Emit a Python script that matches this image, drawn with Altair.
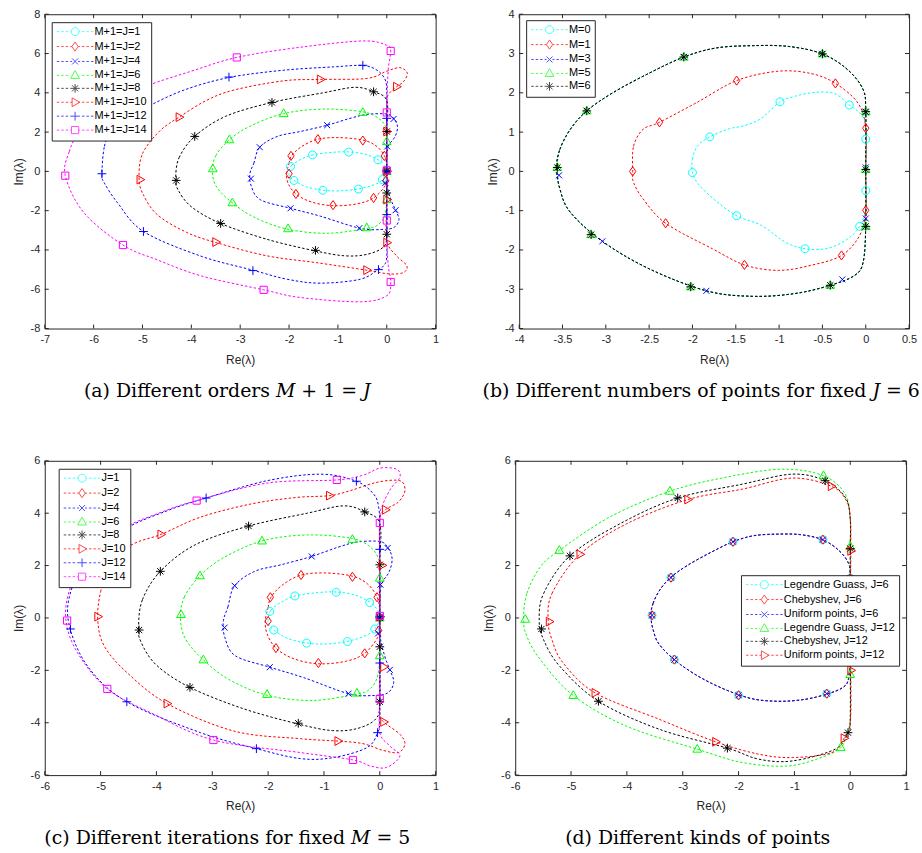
import altair as alt
import pandas as pd

# ---------------- shared curves, panels (a) and (c): J = 1 .. 8 ----------------
J1_CURVE = [(-2.0,-0.05),(-1.95,0.3),(-1.75,0.62),(-1.5,0.85),(-1.1,0.97),(-0.78,0.99),(-0.45,0.88),(-0.18,0.6),(-0.04,0.3),(0.0,0.02),(-0.05,-0.3),(-0.2,-0.62),(-0.55,-0.88),(-0.95,-0.99),(-1.3,-0.96),(-1.65,-0.78),(-1.9,-0.46),(-1.99,-0.25)]
J1_MARKS = [(-1.97,0.25),(-1.52,0.84),(-0.78,0.98),(-0.18,0.59),(0.0,0.05),(-0.09,-0.42),(-0.58,-0.9),(-1.31,-0.96),(-1.9,-0.46)]
J2_CURVE = [(-2.05,-0.1),(-2.0,0.4),(-1.95,0.79),(-1.75,1.25),(-1.42,1.63),(-1.0,1.72),(-0.5,1.6),(-0.22,1.3),(-0.05,0.8),(0.0,0.3),(0.0,-0.3),(-0.04,-0.75),(-0.27,-1.35),(-0.6,-1.65),(-1.1,-1.75),(-1.55,-1.55),(-1.86,-1.15),(-2.02,-0.6)]
J2_MARKS = [(-1.96,0.79),(-1.41,1.64),(-0.49,1.57),(-0.05,0.79),(0.0,0.0),(-0.02,-0.48),(-0.27,-1.35),(-1.1,-1.72),(-1.86,-1.15),(-2.0,-0.12)]
J4_CURVE = [(-2.8,-0.1),(-2.72,0.42),(-2.6,1.23),(-2.24,1.78),(-1.77,2.03),(-1.22,2.35),(-0.75,2.7),(-0.4,2.9),(0.0,2.92),(0.14,2.7),(0.22,2.28),(0.17,1.77),(0.03,1.27),(0.0,0.5),(0.0,-0.59),(0.08,-1.4),(0.18,-1.98),(0.25,-2.45),(0.15,-2.85),(-0.1,-2.96),(-0.56,-2.89),(-1.36,-2.28),(-1.97,-1.88),(-2.59,-1.44),(-2.78,-0.7)]
J4_MARKS = [(-2.6,1.23),(-1.22,2.35),(0.14,2.67),(0.01,1.27),(0.0,0.05),(-0.03,-0.59),(0.18,-1.98),(-0.56,-2.89),(-1.97,-1.88),(-2.78,-0.37)]
J6_CURVE = [(-3.57,0.0),(-3.5,0.8),(-3.22,1.61),(-2.8,2.3),(-2.11,2.94),(-1.3,3.17),(-0.49,3.03),(-0.14,2.65),(0.0,2.1),(0.0,1.52),(0.0,0.0),(0.0,-1.44),(-0.05,-2.3),(-0.2,-2.75),(-0.41,-2.9),(-1.2,-3.15),(-2.02,-2.95),(-2.7,-2.35),(-3.16,-1.6),(-3.48,-0.8)]
J6_MARKS = [(-3.56,0.13),(-3.22,1.61),(-2.11,2.94),(-0.49,3.0),(0.0,1.52),(0.0,0.0),(0.0,-1.44),(-0.41,-2.87),(-2.02,-2.92),(-3.16,-1.6)]
J8_CURVE = [(-4.32,-0.3),(-4.25,0.7),(-3.93,1.78),(-3.3,2.8),(-2.35,3.51),(-1.3,4.0),(-0.65,4.28),(-0.27,4.05),(0.0,3.6),(0.0,2.03),(0.0,0.0),(0.0,-1.1),(0.0,-3.2),(-0.07,-3.85),(-0.4,-4.22),(-0.85,-4.3),(-1.46,-4.05),(-2.45,-3.46),(-3.4,-2.65),(-4.0,-1.8),(-4.28,-0.9)]
J8_MARKS = [(-3.93,1.78),(-2.35,3.51),(-0.27,4.05),(0.0,2.03),(0.0,0.0),(0.0,-1.1),(0.0,-3.2),(-1.46,-4.02),(-3.4,-2.65),(-4.31,-0.46)]

# ---------------- panel (a) only: J = 10, 12, 14 ----------------
A_J10_CURVE = [(-5.07,-0.3),(-5.0,0.9),(-4.65,2.05),(-4.25,2.76),(-3.7,3.6),(-3.13,4.14),(-2.11,4.61),(-1.36,4.68),(-0.41,4.73),(0.0,5.1),(0.27,5.28),(0.42,5.0),(0.34,4.56),(0.2,4.31),(0.03,3.9),(0.0,3.4),(0.0,2.03),(0.0,0.0),(0.0,-1.44),(0.0,-3.5),(0.2,-4.3),(0.41,-4.8),(0.34,-5.15),(0.05,-5.22),(-0.41,-5.03),(-1.43,-4.65),(-2.45,-4.3),(-3.5,-3.62),(-4.1,-3.1),(-4.7,-2.2),(-5.0,-1.1)]
A_J10_MARKS = [(-4.25,2.76),(-1.36,4.68),(0.2,4.31),(0.0,2.03),(0.0,0.0),(0.0,-1.44),(0.0,-3.63),(-0.41,-5.03),(-3.5,-3.6),(-5.05,-0.42)]
A_J12_CURVE = [(-5.83,-0.12),(-5.78,1.27),(-5.65,1.94),(-5.31,2.7),(-4.9,3.29),(-4.15,4.14),(-3.23,4.78),(-2.11,5.15),(-1.09,5.32),(-0.49,5.39),(-0.2,5.15),(-0.03,4.65),(0.0,3.97),(0.0,2.7),(0.0,0.0),(0.0,-2.2),(0.0,-4.31),(-0.07,-4.81),(-0.17,-4.98),(-0.54,-5.49),(-1.36,-5.69),(-2.04,-5.49),(-2.74,-5.03),(-3.81,-4.31),(-4.98,-3.06),(-5.51,-1.6),(-5.78,-0.59)]
A_J12_MARKS = [(-5.45,2.45),(-3.23,4.8),(-0.49,5.4),(0.0,2.7),(0.0,0.05),(0.0,-2.2),(-0.17,-5.0),(-2.74,-5.05),(-4.98,-3.06),(-5.83,-0.12)]
A_J14_CURVE = [(-6.58,-0.22),(-6.5,1.0),(-6.3,2.0),(-5.9,3.0),(-5.3,3.85),(-4.86,4.4),(-4.0,5.1),(-3.07,5.8),(-1.77,6.32),(-0.48,6.64),(0.0,6.42),(0.08,6.13),(0.03,5.17),(0.0,3.47),(0.0,3.0),(0.0,0.0),(0.0,-2.5),(0.0,-3.5),(0.03,-4.8),(0.08,-5.63),(0.0,-6.33),(-0.54,-6.64),(-1.77,-6.42),(-2.52,-6.03),(-3.8,-5.32),(-4.7,-4.5),(-5.4,-3.75),(-6.2,-2.1)]
A_J14_MARKS = [(-5.6,3.4),(-3.07,5.8),(0.08,6.13),(0.0,3.0),(0.0,0.05),(0.0,-2.5),(0.08,-5.63),(-2.52,-6.03),(-5.4,-3.75),(-6.58,-0.22)]

# ---------------- panel (c) only: J = 10, 12, 14 ----------------
C_J10_CURVE = [(-5.05,-0.1),(-5.0,1.0),(-4.81,2.2),(-4.4,2.84),(-3.92,3.19),(-3.21,3.85),(-2.31,4.35),(-1.5,4.6),(-0.9,4.67),(-0.53,4.86),(-0.05,5.18),(0.36,5.24),(0.45,4.86),(0.33,4.42),(0.1,4.13),(0.0,3.72),(0.0,2.0),(0.0,0.0),(0.0,-1.87),(0.0,-3.62),(0.07,-3.97),(0.36,-4.44),(0.45,-4.82),(0.33,-5.14),(0.05,-5.05),(-0.3,-4.8),(-0.75,-4.7),(-1.42,-4.61),(-2.61,-4.32),(-3.81,-3.27),(-4.52,-2.1),(-4.93,-1.09)]
C_J10_MARKS = [(-3.92,3.19),(-0.9,4.67),(0.1,4.13),(0.04,2.01),(0.0,0.05),(0.07,-1.87),(0.07,-3.97),(-0.75,-4.7),(-3.81,-3.27),(-5.05,0.05)]
C_J12_CURVE = [(-5.57,-0.2),(-5.52,1.1),(-5.2,2.2),(-4.6,3.35),(-3.8,4.1),(-3.11,4.58),(-2.02,5.24),(-1.06,5.49),(-0.42,5.22),(-0.11,4.73),(-0.02,4.23),(0.0,3.5),(0.0,2.62),(0.0,0.0),(0.0,-1.72),(0.0,-3.8),(-0.04,-4.38),(-0.23,-4.95),(-0.83,-5.33),(-1.42,-5.37),(-2.21,-4.99),(-3.21,-4.38),(-4.53,-3.2),(-5.23,-1.85)]
C_J12_MARKS = [(-5.35,2.5),(-3.11,4.58),(-0.42,5.22),(0.0,2.62),(0.0,0.05),(0.0,-1.72),(-0.04,-4.38),(-2.21,-4.99),(-4.53,-3.2),(-5.54,-0.42)]
C_J14_CURVE = [(-5.62,-0.1),(-5.55,1.1),(-5.25,2.2),(-4.65,3.35),(-3.9,4.05),(-3.28,4.48),(-2.02,5.15),(-0.77,5.27),(-0.3,5.45),(0.0,5.72),(0.3,5.68),(0.36,5.37),(0.2,4.95),(0.05,4.3),(0.0,3.63),(0.0,0.0),(0.0,-3.09),(0.0,-4.38),(0.18,-4.89),(0.36,-5.27),(0.12,-5.71),(-0.17,-5.65),(-0.48,-5.42),(-1.42,-5.14),(-2.98,-4.66),(-4.1,-3.62),(-4.88,-2.71),(-5.41,-1.34)]
C_J14_MARKS = [(-5.3,2.3),(-3.28,4.48),(-0.77,5.27),(0.0,3.63),(0.0,0.08),(0.0,-3.09),(-0.48,-5.42),(-2.98,-4.66),(-4.88,-2.71),(-5.6,-0.1)]

# ---------------- panel (b): fixed J = 6 ----------------
B_M0_CURVE = [(-2.0,-0.03),(-2.0,0.31),(-1.94,0.65),(-1.8,0.88),(-1.58,1.08),(-1.39,1.17),(-1.2,1.36),(-0.99,1.77),(-0.82,1.91),(-0.59,2.01),(-0.36,1.98),(-0.19,1.69),(-0.07,1.49),(0.0,1.2),(0.0,0.82),(0.0,0.0),(0.0,-0.49),(0.0,-0.96),(-0.07,-1.4),(-0.21,-1.72),(-0.44,-1.96),(-0.7,-1.97),(-0.93,-1.8),(-1.2,-1.38),(-1.49,-1.13),(-1.73,-0.75),(-1.93,-0.33)]
B_M0_MARKS = [(-2.0,-0.03),(-1.8,0.88),(-0.99,1.77),(-0.19,1.69),(0.0,0.82),(0.0,-0.49),(-0.07,-1.4),(-0.7,-1.97),(-1.49,-1.13)]
B_M1_CURVE = [(-2.69,0.0),(-2.68,0.64),(-2.57,1.07),(-2.38,1.25),(-1.96,1.74),(-1.49,2.31),(-1.01,2.55),(-0.63,2.49),(-0.35,2.24),(-0.09,1.74),(0.0,1.1),(0.0,0.0),(0.0,-0.99),(-0.07,-1.63),(-0.28,-2.14),(-0.63,-2.39),(-1.01,-2.52),(-1.4,-2.38),(-1.77,-1.97),(-2.31,-1.32),(-2.57,-0.7),(-2.68,-0.28)]
B_M1_MARKS = [(-2.69,0.0),(-2.38,1.25),(-1.49,2.31),(-0.35,2.24),(0.0,1.1),(0.0,-0.99),(-0.28,-2.14),(-1.4,-2.38),(-2.31,-1.32)]
B_M3_CURVE = [(-3.56,0.1),(-3.53,0.56),(-3.41,1.07),(-3.22,1.54),(-2.92,2.0),(-2.5,2.5),(-2.1,2.91),(-1.73,3.14),(-1.31,3.2),(-0.89,3.18),(-0.5,2.99),(-0.21,2.59),(-0.03,2.08),(0.0,1.52),(0.0,0.05),(0.0,-1.4),(-0.03,-2.31),(-0.13,-2.65),(-0.41,-2.9),(-0.82,-3.11),(-1.31,-3.18),(-1.84,-3.04),(-2.5,-2.48),(-3.04,-1.78),(-3.41,-1.04),(-3.53,-0.45)]
B_M3_MARKS = [(-3.54,-0.1),(-3.22,1.54),(-2.1,2.91),(-0.5,2.99),(0.0,1.5),(0.0,0.1),(0.0,-1.2),(-0.27,-2.75),(-1.84,-3.04),(-3.04,-1.78)]
B_M5_CURVE = [(-3.57,0.1),(-3.53,0.56),(-3.41,1.07),(-3.22,1.54),(-2.92,2.0),(-2.5,2.5),(-2.1,2.91),(-1.73,3.14),(-1.31,3.2),(-0.89,3.18),(-0.5,2.99),(-0.21,2.59),(-0.03,2.08),(0.0,1.52),(0.0,0.05),(0.0,-1.4),(-0.03,-2.31),(-0.13,-2.65),(-0.41,-2.9),(-0.82,-3.11),(-1.31,-3.18),(-1.84,-3.04),(-2.5,-2.48),(-3.04,-1.78),(-3.41,-1.04),(-3.53,-0.45)]
B_M5_MARKS = [(-3.56,0.1),(-3.22,1.54),(-2.1,2.91),(-0.5,2.99),(0.0,1.52),(0.0,0.05),(0.0,-1.4),(-0.41,-2.9),(-2.02,-2.94),(-3.17,-1.61)]
B_M6_CURVE = [(-3.57,0.1),(-3.53,0.56),(-3.41,1.07),(-3.22,1.54),(-2.92,2.0),(-2.5,2.5),(-2.1,2.91),(-1.73,3.14),(-1.31,3.2),(-0.89,3.18),(-0.5,2.99),(-0.21,2.59),(-0.03,2.08),(0.0,1.52),(0.0,0.05),(0.0,-1.4),(-0.03,-2.31),(-0.13,-2.65),(-0.41,-2.9),(-0.82,-3.11),(-1.31,-3.18),(-1.84,-3.04),(-2.5,-2.48),(-3.04,-1.78),(-3.41,-1.04),(-3.53,-0.45)]
B_M6_MARKS = [(-3.56,0.1),(-3.22,1.54),(-2.1,2.91),(-0.5,2.99),(0.0,1.52),(0.0,0.05),(0.0,-1.4),(-0.41,-2.9),(-2.02,-2.94),(-3.17,-1.61)]

# ---------------- panel (d): kinds of points ----------------
D_J6_CURVE = [(-3.57,0.1),(-3.53,0.56),(-3.41,1.07),(-3.22,1.54),(-2.92,2.0),(-2.5,2.5),(-2.1,2.91),(-1.73,3.14),(-1.31,3.2),(-0.89,3.18),(-0.5,2.99),(-0.21,2.59),(-0.03,2.08),(0.0,1.52),(0.0,0.05),(0.0,-1.4),(-0.03,-2.31),(-0.13,-2.65),(-0.41,-2.9),(-0.82,-3.11),(-1.31,-3.18),(-1.84,-3.04),(-2.5,-2.48),(-3.04,-1.78),(-3.41,-1.04),(-3.53,-0.45)]
D_J6_MARKS = [(-3.55,0.1),(-3.21,1.54),(-2.1,2.91),(-0.49,2.99),(0.0,1.52),(0.0,0.05),(0.0,-1.4),(-0.42,-2.89),(-2.0,-2.95),(-3.15,-1.59)]
D_LG12_CURVE = [(-5.85,-0.05),(-5.79,0.94),(-5.55,1.95),(-5.21,2.58),(-4.31,3.85),(-3.23,4.84),(-2.23,5.37),(-1.22,5.68),(-0.48,5.43),(-0.09,4.73),(0.0,3.72),(0.0,2.73),(0.0,0.0),(0.0,-2.16),(0.0,-3.87),(-0.09,-4.63),(-0.17,-4.95),(-0.45,-5.27),(-1.1,-5.65),(-1.93,-5.52),(-2.74,-5.01),(-4.01,-4.13),(-4.96,-2.96),(-5.55,-1.59),(-5.79,-0.71)]
D_LG12_MARKS = [(-5.82,-0.05),(-5.21,2.58),(-3.23,4.84),(-0.48,5.43),(0.0,2.73),(0.0,0.0),(0.0,-2.16),(-0.17,-4.95),(-2.74,-5.01),(-4.96,-2.96)]
D_CH12_CURVE = [(-5.57,-0.1),(-5.49,0.94),(-5.02,2.37),(-4.13,3.59),(-3.09,4.58),(-1.93,5.11),(-1.04,5.49),(-0.45,5.24),(-0.09,4.61),(0.0,3.8),(0.0,2.65),(0.0,0.0),(0.0,-3.8),(-0.04,-4.38),(-0.27,-5.01),(-1.04,-5.46),(-1.64,-5.39),(-2.2,-4.97),(-3.42,-4.25),(-4.51,-3.18),(-5.2,-1.85),(-5.49,-0.84)]
D_CH12_MARKS = [(-5.53,-0.42),(-5.02,2.37),(-3.09,4.58),(-0.45,5.24),(0.0,2.65),(0.0,0.0),(0.0,-1.7),(-0.04,-4.38),(-2.2,-4.97),(-4.51,-3.18)]
D_UN12_CURVE = [(-5.41,-0.1),(-5.34,0.94),(-4.84,2.43),(-4.01,3.59),(-2.91,4.52),(-1.93,4.92),(-1.04,5.34),(-0.34,5.03),(-0.07,4.48),(0.0,3.8),(0.01,2.56),(0.0,0.0),(0.01,-2.0),(0.0,-4.0),(-0.11,-4.59),(-0.33,-5.14),(-1.04,-5.33),(-1.64,-5.2),(-2.41,-4.73),(-3.42,-3.87),(-4.57,-2.86),(-5.14,-1.72),(-5.34,-0.84)]
D_UN12_MARKS = [(-5.39,-0.14),(-4.84,2.43),(-2.91,4.52),(-0.34,5.03),(0.01,2.56),(0.0,0.2),(0.01,-2.0),(-0.11,-4.59),(-2.41,-4.73),(-4.57,-2.86)]

# ---------------- labels and ticks ----------------
A_LABELS = ["M+1=J=1", "M+1=J=2", "M+1=J=4", "M+1=J=6", "M+1=J=8", "M+1=J=10", "M+1=J=12", "M+1=J=14"]
B_LABELS = ["M=0", "M=1", "M=3", "M=5", "M=6"]
C_LABELS = ["J=1", "J=2", "J=4", "J=6", "J=8", "J=10", "J=12", "J=14"]
D_LABELS = ["Legendre Guass, J=6", "Chebyshev, J=6", "Uniform points, J=6",
            "Legendre Guass, J=12", "Chebyshev, J=12", "Uniform points, J=12"]

A_XTICKS = [-7, -6, -5, -4, -3, -2, -1, 0, 1]
A_YTICKS = [-8, -6, -4, -2, 0, 2, 4, 6, 8]
B_XTICKS = [-4, -3.5, -3, -2.5, -2, -1.5, -1, -0.5, 0, 0.5]
B_YTICKS = [-4, -3, -2, -1, 0, 1, 2, 3, 4]
C_XTICKS = [-6, -5, -4, -3, -2, -1, 0, 1]
C_YTICKS = [-6, -4, -2, 0, 2, 4, 6]

CAPTION_A = "(a) Different orders 𝑀 + 1 = 𝐽"
CAPTION_B = "(b) Different numbers of points for fixed 𝐽 = 6"
CAPTION_C = "(c) Different iterations for fixed 𝑀 = 5"
CAPTION_D = "(d) Different kinds of points"

# ---------------- styles ----------------
CYAN, RED, BLUE, GREEN, BLACK, MAGENTA = "#00FFFF", "#FF0000", "#0000FF", "#00FF00", "#000000", "#FF00FF"
CIRC = ("M1,0A1,1,0,1,1,-1,0A1,1,0,1,1,1,0Z", 1.0)
DIAM = ("M0,-1.15L0.8,0L0,1.15L-0.8,0Z", 0.8)
XMK = ("M-0.75,-0.75L0.75,0.75M-0.75,0.75L0.75,-0.75", 0.75)
TRIU = ("M0,-1.2L1.1,0.75L-1.1,0.75Z", 1.1)
AST = ("M0,-1.1L0,1.1M-1.1,0L1.1,0M-0.78,-0.78L0.78,0.78M-0.78,0.78L0.78,-0.78", 1.1)
TRIR = ("M1.2,0L-0.75,-1.1L-0.75,1.1Z", 0.75)
PLUS = ("M-1.1,0L1.1,0M0,-1.1L0,1.1", 1.1)
SQR = ("M-0.9,-0.9L0.9,-0.9L0.9,0.9L-0.9,0.9Z", 0.9)

FRAME = "#262626"
SANS = "Liberation Sans"
SERIF = "DejaVu Serif"


def legend_path(marker):
    path, r = marker
    L, dash, gap = 4.6, 0.62, 0.5
    segs = []
    x = -L
    while x < -r - 0.05:
        a, b = x, min(x + dash, -r)
        segs.append(f"M{a:.2f},0L{b:.2f},0M{-b:.2f},0L{-a:.2f},0")
        x += dash + gap
    return "".join(segs) + path


def axis(values, title, tpad):
    return alt.Axis(values=values, labelExpr="datum.value + ''", ticks=False, domain=False, grid=False,
                    labelFont=SANS, labelFontSize=11, labelColor=FRAME, labelPadding=5,
                    labelFlush=False, labelOverlap=False, title=title, titleFont=SANS,
                    titleFontSize=12, titleFontWeight="normal", titleColor=FRAME, titlePadding=tpad)


def panel(labels, colors, markers, curves, marks, xdom, ydom, xt, yt, caption, lx, ly, w, h):
    lrows, mrows = [], []
    for lab, pts in zip(labels, curves):
        for i, (x, y) in enumerate(pts):
            lrows.append({"s": lab, "x": x, "y": y, "i": i})
    for lab, pts in zip(labels, marks):
        for (x, y) in pts:
            mrows.append({"s": lab, "x": x, "y": y})
    dl, dm = pd.DataFrame(lrows), pd.DataFrame(mrows)
    xenc = alt.X("x:Q", scale=alt.Scale(domain=xdom, nice=False, zero=False), axis=axis(xt, "Re(λ)", 10))
    yenc = alt.Y("y:Q", scale=alt.Scale(domain=ydom, nice=False, zero=False), axis=axis(yt, "Im(λ)", 5))
    cscale = alt.Scale(domain=labels, range=colors)
    lines = alt.Chart(dl).mark_line(interpolate="cardinal-closed", strokeDash=[2.5, 2], strokeWidth=1, clip=True).encode(
        x=xenc, y=yenc, color=alt.Color("s:N", scale=cscale, legend=None), order="i:Q")
    pts = alt.Chart(dm).mark_point(filled=False, size=64, strokeWidth=1, opacity=1, clip=True).encode(
        x=xenc, y=yenc, color=alt.Color("s:N", scale=cscale, legend=None),
        shape=alt.Shape("s:N", scale=alt.Scale(domain=labels, range=[m[0] for m in markers]), legend=None))
    leg = alt.Legend(title=None, orient="none", legendX=lx, legendY=ly, padding=4, strokeColor=FRAME,
                     fillColor="white", labelFont=SANS, labelFontSize=11, labelColor="black",
                     symbolSize=64, symbolStrokeWidth=1, rowPadding=1, symbolOffset=14, labelOffset=14,
                     labelLimit=400)
    phantom = alt.Chart(dm).transform_filter("false").mark_point(filled=False, strokeWidth=1).encode(
        x=xenc, y=yenc, color=alt.Color("s:N", scale=cscale, legend=leg),
        shape=alt.Shape("s:N", scale=alt.Scale(domain=labels, range=[legend_path(m) for m in markers]), legend=leg))
    dx, dy = pd.DataFrame({"x": xt}), pd.DataFrame({"y": yt})
    tick = dict(color=FRAME, strokeWidth=1)
    tb = alt.Chart(dx).mark_rule(**tick).encode(x=xenc, y=alt.value(h), y2=alt.value(h - 4))
    tt = alt.Chart(dx).mark_rule(**tick).encode(x=xenc, y=alt.value(0), y2=alt.value(4))
    tl = alt.Chart(dy).mark_rule(**tick).encode(y=yenc, x=alt.value(0), x2=alt.value(4))
    tr = alt.Chart(dy).mark_rule(**tick).encode(y=yenc, x=alt.value(w), x2=alt.value(w - 4))
    return alt.layer(lines, pts, tb, tt, tl, tr, phantom).resolve_scale(
        color="independent", shape="independent").properties(
        width=w, height=h,
        title=alt.TitleParams(text=caption, orient="bottom", anchor="middle", frame="group", dx=-13, font=SERIF,
                              fontSize=19, fontWeight="normal", color="black", offset=17))


AC_COLORS = [CYAN, RED, BLUE, GREEN, BLACK, RED, BLUE, MAGENTA]
AC_MARKERS = [CIRC, DIAM, XMK, TRIU, AST, TRIR, PLUS, SQR]

pa = panel(A_LABELS, AC_COLORS, AC_MARKERS,
           [J1_CURVE, J2_CURVE, J4_CURVE, J6_CURVE, J8_CURVE, A_J10_CURVE, A_J12_CURVE, A_J14_CURVE],
           [J1_MARKS, J2_MARKS, J4_MARKS, J6_MARKS, J8_MARKS, A_J10_MARKS, A_J12_MARKS, A_J14_MARKS],
           [-7, 1], [-8, 8], A_XTICKS, A_YTICKS, CAPTION_A, 7, 8, 393, 316)
pb = panel(B_LABELS, [CYAN, RED, BLUE, GREEN, BLACK], [CIRC, DIAM, XMK, TRIU, AST],
           [B_M0_CURVE, B_M1_CURVE, B_M3_CURVE, B_M5_CURVE, B_M6_CURVE],
           [B_M0_MARKS, B_M1_MARKS, B_M3_MARKS, B_M5_MARKS, B_M6_MARKS],
           [-4, 0.5], [-4, 4], B_XTICKS, B_YTICKS, CAPTION_B, 7, 6, 392, 316)
pc = panel(C_LABELS, AC_COLORS, AC_MARKERS,
           [J1_CURVE, J2_CURVE, J4_CURVE, J6_CURVE, J8_CURVE, C_J10_CURVE, C_J12_CURVE, C_J14_CURVE],
           [J1_MARKS, J2_MARKS, J4_MARKS, J6_MARKS, J8_MARKS, C_J10_MARKS, C_J12_MARKS, C_J14_MARKS],
           [-6, 1], [-6, 6], C_XTICKS, C_YTICKS, CAPTION_C, 14, 8, 393, 316)
pd_ = panel(D_LABELS, [CYAN, RED, BLUE, GREEN, BLACK, RED], [CIRC, DIAM, XMK, TRIU, AST, TRIR],
            [D_J6_CURVE, D_J6_CURVE, D_J6_CURVE, D_LG12_CURVE, D_CH12_CURVE, D_UN12_CURVE],
            [D_J6_MARKS, D_J6_MARKS, D_J6_MARKS, D_LG12_MARKS, D_CH12_MARKS, D_UN12_MARKS],
            [-6, 1], [-6, 6], C_XTICKS, C_YTICKS, CAPTION_D, 227, 115, 393, 316)

row1 = alt.hconcat(pa, pb, spacing=42).resolve_scale(color="independent", shape="independent")
row2 = alt.hconcat(pc, pd_, spacing=42).resolve_scale(color="independent", shape="independent")
chart = alt.vconcat(row1, row2, spacing=52).resolve_scale(color="independent", shape="independent").properties(
    padding={"left": 11, "top": 5, "right": 1, "bottom": 1}, background="white"
).configure_view(stroke=FRAME, strokeWidth=1)

chart.save("out.html", embed_options={"renderer": "svg", "actions": False})
